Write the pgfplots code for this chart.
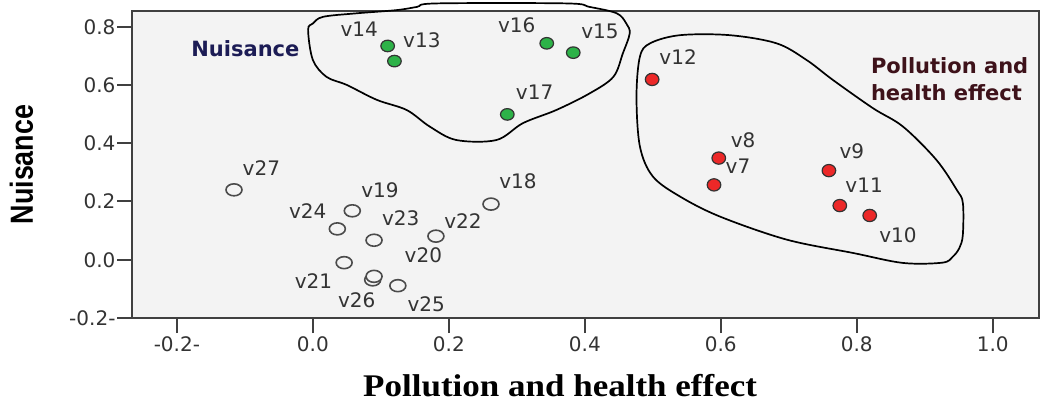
\documentclass[border=0pt]{standalone}
\usepackage{fontspec}
\setmainfont{DejaVu Sans}
\newfontfamily\labelserif{Liberation Serif}
\newfontfamily\labelsans{Liberation Sans}
\usepackage{pgfplots}
\pgfplotsset{compat=1.18}
\usepackage{pgfplotstable}

\definecolor{panel}{RGB}{243,243,243}
\definecolor{grp1}{RGB}{45,178,72}
\definecolor{grp2}{RGB}{236,40,40}
\definecolor{ring}{RGB}{75,75,75}
\definecolor{navytxt}{RGB}{28,28,85}
\definecolor{maroontxt}{RGB}{62,18,26}

% loadings: x, y, label offset (dx, dy in pt), item name
\pgfplotstableread{
x      y      dx     dy     name
0.110  0.734  -28.4  16.7   v14
0.120  0.682  27.4   21.0   v13
0.344  0.743  -30.0  18.3   v16
0.383  0.711  26.7   21.0   v15
0.286  0.499  27.3   22.6   v17
}\nuisance

\pgfplotstableread{
x      y      dx     dy     name
0.499  0.619  26.0   22.6   v12
0.597  0.349  24.3   17.7   v8
0.590  0.257  24.0   18.3   v7
0.759  0.306  23.0   19.0   v9
0.775  0.186  24.3   20.7   v11
0.819  0.152  28.3   -19.3  v10
}\pollution

\pgfplotstableread{
x      y      dx     dy     name
-0.116 0.240  27.4   21.7   v27
0.058  0.168  27.7   21.0   v19
0.036  0.106  -29.6  17.3   v24
0.090  0.067  26.7   22.0   v23
0.181  0.081  27.0   14.6   v22
0.262  0.191  27.0   22.6   v18
0.046  -0.010 -30.7  -18.7  v21
0.088  -0.069 -16.0  -20.0  v26
0.090  -0.057 49.3   20.7   v20
0.125  -0.089 28.4   -19.0  v25
}\others

\pgfplotsset{
  itemlabels/.style={
    nodes near coords,
    point meta=explicit symbolic,
    visualization depends on={\thisrow{dx} \as \lbldx},
    visualization depends on={\thisrow{dy} \as \lbldy},
    nodes near coords style={anchor=center, inner sep=0pt,
      xshift=\lbldx pt, yshift=\lbldy pt,
      font=\fontsize{20}{20}\selectfont, text=black!80},
  },
}

\begin{document}
\begin{tikzpicture}
\useasboundingbox (0,0) rectangle (1043pt,407pt);
\begin{axis}[
  at={(132pt,89pt)}, anchor=south west,
  width=907pt, height=307pt, scale only axis,
  xmin=-0.266, xmax=1.068, ymin=-0.2, ymax=0.854,
  clip=false,
  axis background/.style={fill=panel},
  axis line style={black!75, line width=1.5pt},
  xtick={-0.2,0,0.2,0.4,0.6,0.8,1.0},
  xticklabels={-0.2-,0.0,0.2,0.4,0.6,0.8,1.0},
  ytick={-0.2,0,0.2,0.4,0.6,0.8},
  yticklabels={-0.2-,0.0,0.2,0.4,0.6,0.8},
  xtick pos=left, ytick pos=left,
  tick align=outside, major tick length=15pt,
  tick style={black!75, line width=2pt},
  tick label style={font=\fontsize{20}{20}\selectfont, text=black!80},
  yticklabel style={xshift=2pt},
  xlabel={\scalebox{1}[0.9]{\labelserif\bfseries\fontsize{35}{35}\selectfont Pollution and health effect}},
  xlabel style={at={(axis description cs:0.472,-0.257)}, anchor=base},
  ylabel={\scalebox{0.84}[1]{\labelsans\bfseries\fontsize{32}{32}\selectfont Nuisance}},
  ylabel style={at={(axis description cs:-0.1092,0.5)}, anchor=base},
]

% cluster outlines
\draw[black, line width=1.7pt] plot[smooth cycle, tension=0.55] coordinates {
  (-0.007,0.789) (0.000,0.686) (0.020,0.628) (0.050,0.600) (0.094,0.549)
  (0.138,0.514) (0.172,0.457) (0.211,0.411) (0.270,0.411) (0.309,0.469)
  (0.358,0.514) (0.407,0.571) (0.442,0.628) (0.456,0.709) (0.466,0.777)
  (0.461,0.811) (0.447,0.846) (0.407,0.868) (0.373,0.880) (0.182,0.880)
  (0.153,0.868) (0.123,0.857) (0.064,0.846) (0.015,0.834) (0.000,0.811)};
\draw[black, line width=1.7pt] plot[smooth cycle, tension=0.55] coordinates {
  (0.481,0.697) (0.496,0.743) (0.540,0.771) (0.613,0.771) (0.682,0.743)
  (0.726,0.686) (0.765,0.617) (0.824,0.520) (0.868,0.457) (0.917,0.343)
  (0.947,0.240) (0.956,0.195) (0.956,0.086) (0.951,0.041) (0.941,0.010)
  (0.926,-0.010) (0.868,-0.011) (0.795,0.023) (0.697,0.069) (0.599,0.148)
  (0.540,0.217) (0.500,0.286) (0.481,0.389) (0.476,0.560)};

% items
\addplot[only marks, mark=*, mark size=8pt,
  mark options={fill=panel, draw=ring, line width=1.6pt, yscale=0.75},
  itemlabels] table[x=x, y=y, meta=name] {\others};
\addplot[only marks, mark=*, mark size=6.8pt,
  mark options={fill=grp1, draw=black!80, line width=1.2pt, yscale=0.85},
  itemlabels] table[x=x, y=y, meta=name] {\nuisance};
\addplot[only marks, mark=*, mark size=6.8pt,
  mark options={fill=grp2, draw=black!80, line width=1.2pt, yscale=0.9},
  itemlabels] table[x=x, y=y, meta=name] {\pollution};

% cluster names
\node[anchor=base west, inner sep=0pt, text=navytxt,
  font=\bfseries\fontsize{21}{21}\selectfont] at (axis cs:-0.179,0.697) {Nuisance};
\node[anchor=base west, inner sep=0pt, text=maroontxt,
  font=\bfseries\fontsize{21}{21}\selectfont] at (axis cs:0.8206,0.640) {Pollution and};
\node[anchor=base west, inner sep=0pt, text=maroontxt,
  font=\bfseries\fontsize{21}{21}\selectfont] at (axis cs:0.8206,0.546) {health effect};
\end{axis}
\end{tikzpicture}
\end{document}
